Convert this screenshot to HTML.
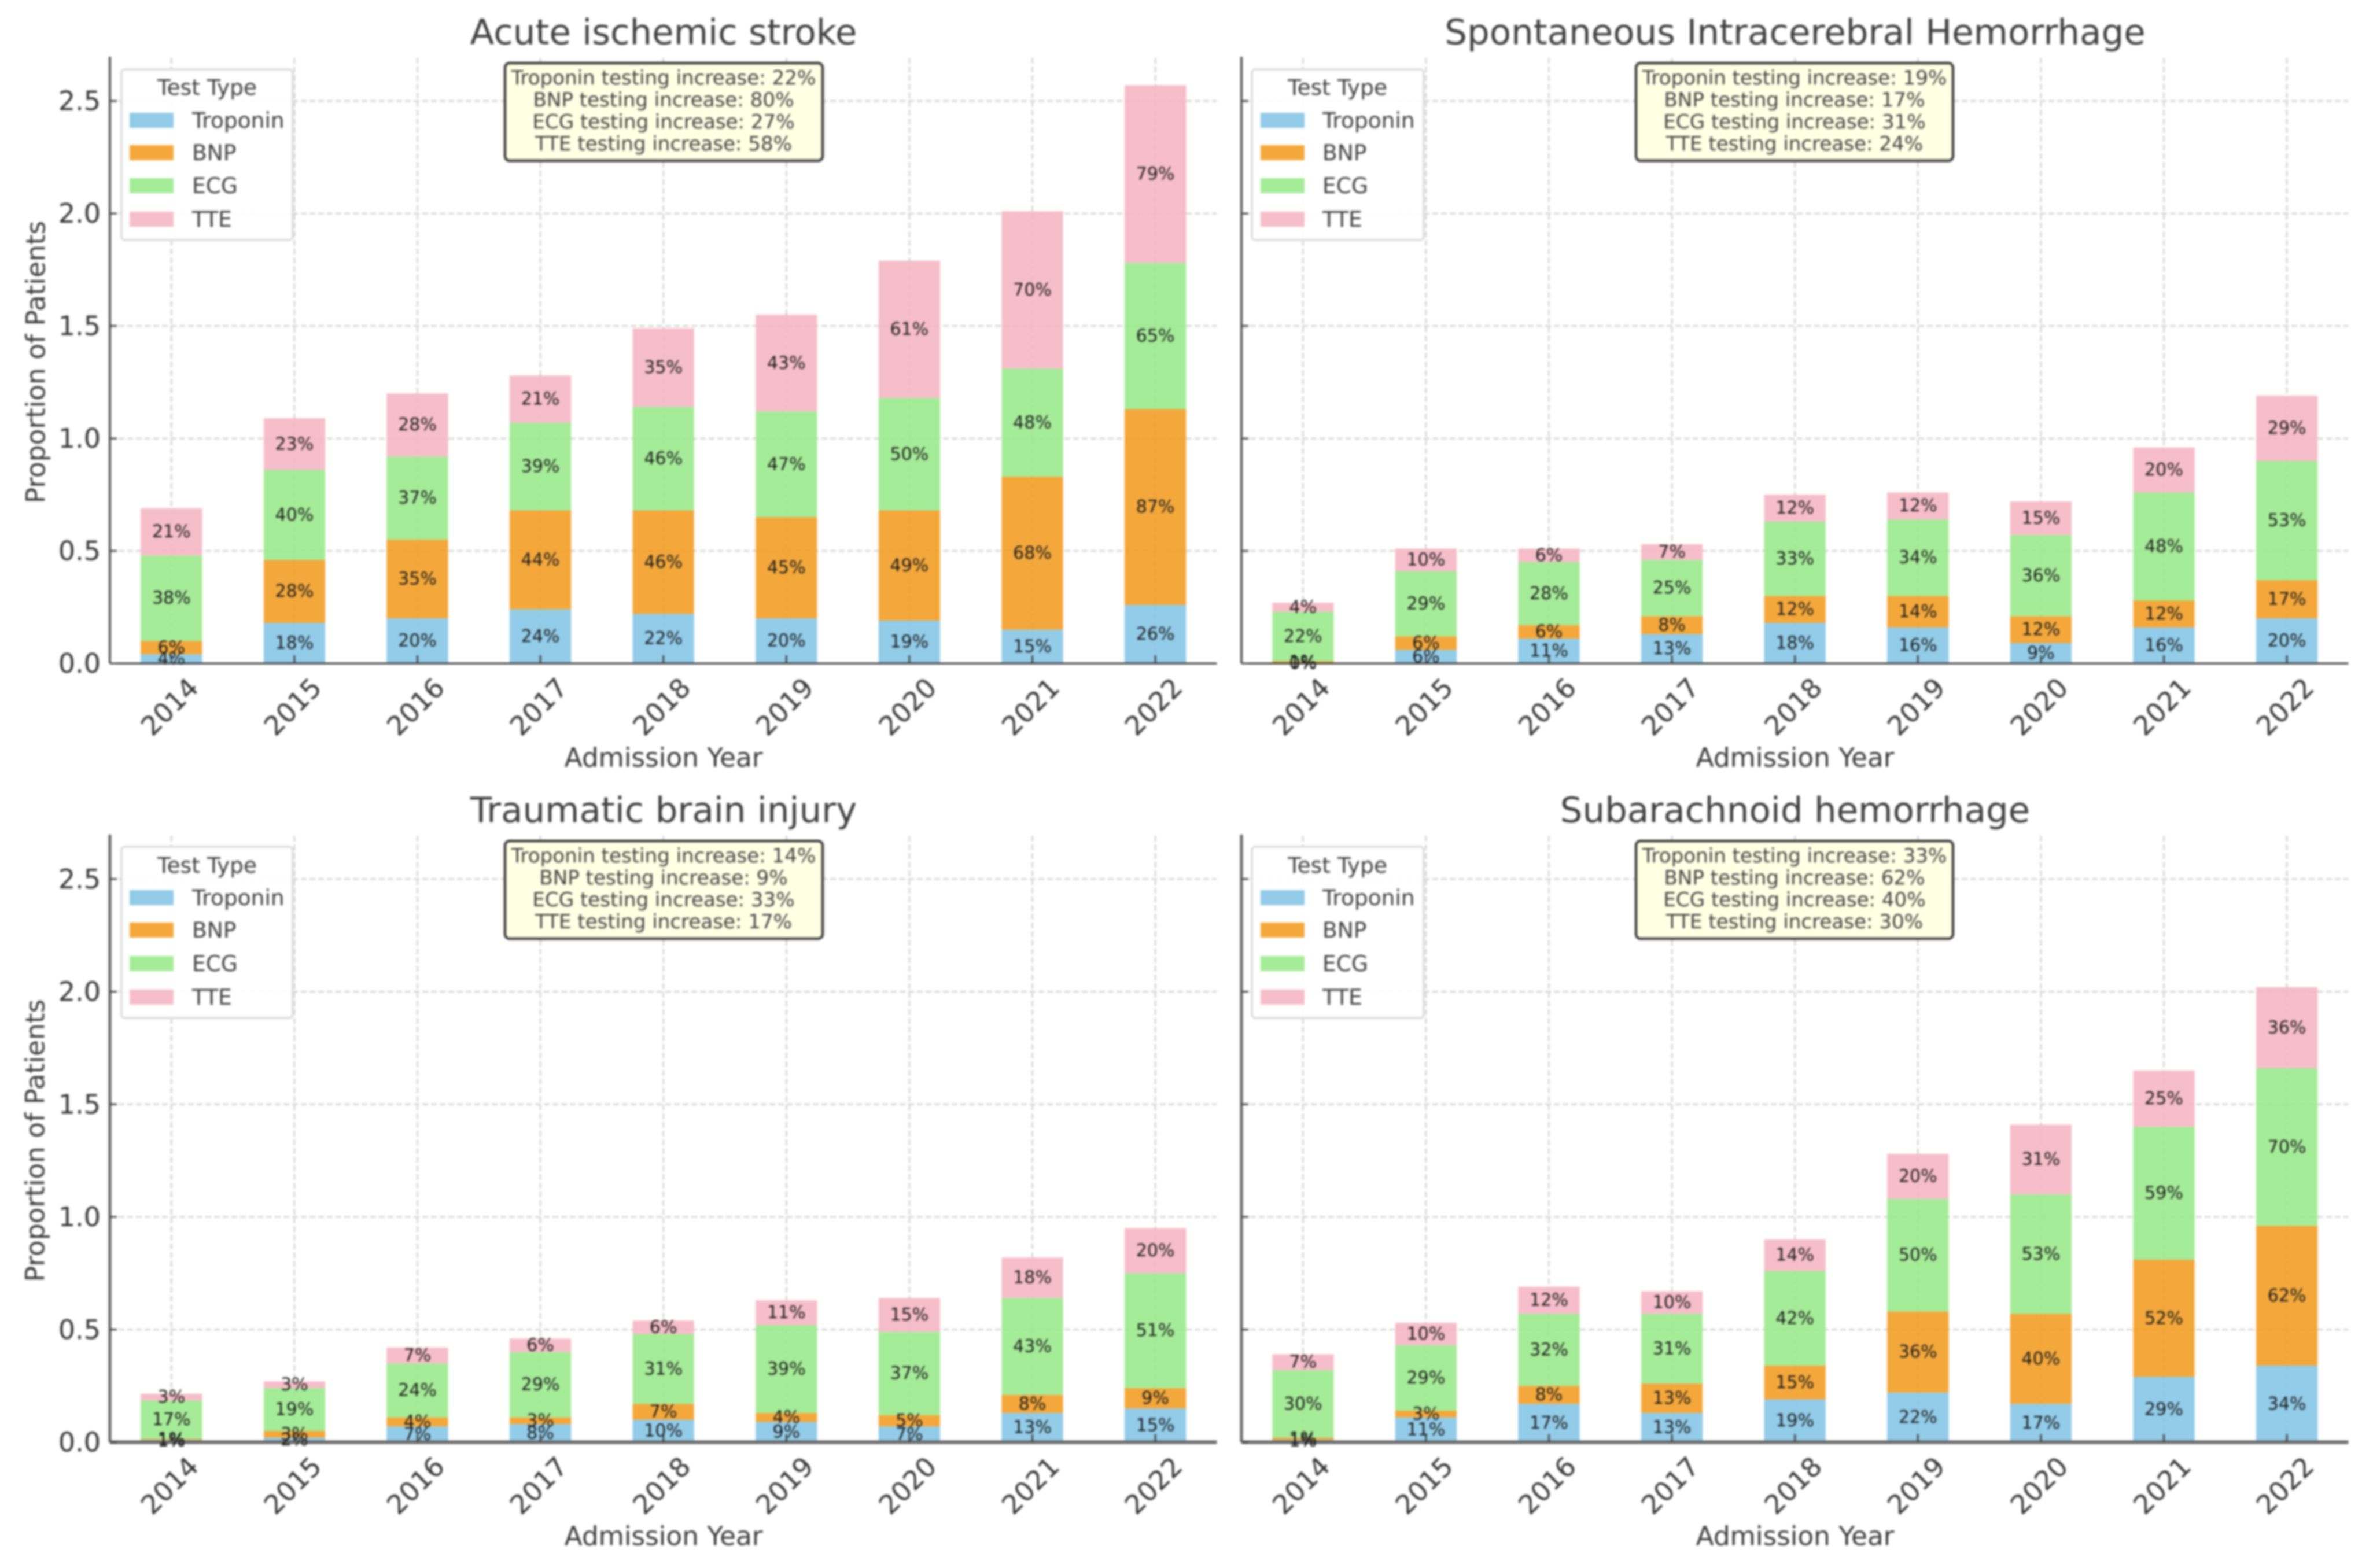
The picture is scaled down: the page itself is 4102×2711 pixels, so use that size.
<!DOCTYPE html>
<html lang="en">
<head>
<meta charset="utf-8">
<title>Cardiac testing by admission year</title>
<style>
html,body{margin:0;padding:0;background:#fff;}
svg{display:block;width:4102px;height:2711px;filter:blur(1.8px);font-family:"DejaVu Sans","Liberation Sans",sans-serif;}
.title{font-size:61px;fill:#404040;text-anchor:middle;dominant-baseline:central;}
.axis-title{font-size:45.4px;fill:#3c3c3c;text-anchor:middle;dominant-baseline:central;}
.tick-label{font-size:46px;fill:#363636;}
.bar-label{font-size:30px;fill:#1c1c1c;text-anchor:middle;dominant-baseline:central;}
.legend-box{fill:#fff;fill-opacity:.92;stroke:#dcdcdc;stroke-width:3.5;}
.legend-title,.legend-text{font-size:37.5px;fill:#404040;dominant-baseline:central;}
.legend-title{text-anchor:middle;}
.note-box{fill:#ffffe4;stroke:#404040;stroke-width:4.5;}
.note-text{font-size:34.1px;fill:#444;text-anchor:middle;dominant-baseline:central;}
.grid{stroke:#d6d6d6;stroke-width:3;stroke-dasharray:10 5;fill:none;}
.spine-y{stroke:#555;stroke-width:4;}
.spine-x{stroke:#333;stroke-width:3;}
.row-bottom .spine-y{stroke:#666;stroke-width:5;}
.row-bottom .spine-x{stroke:#666;stroke-width:6;}
.tick{stroke:#444;stroke-width:3;}
</style>
</head>
<body>
<svg xmlns="http://www.w3.org/2000/svg" width="4102" height="2711" viewBox="0 0 4102 2711">
<rect width="4102" height="2711" fill="#fff"/>

<g id="ischemic" class="row-top" transform="translate(190,98)" data-height="1047">
  <text class="title" x="957" y="-42">Acute ischemic stroke</text>
  <g class="marks" transform="translate(0,2)"></g>
  <text class="axis-title" x="957" y="1212">Admission Year</text>
  <text class="axis-title" transform="translate(-128,528) rotate(-90)">Proportion of Patients</text>
  <g>
    <rect class="legend-box" x="20" y="22" width="296" height="295" rx="6"/>
    <text class="legend-title" x="168" y="53">Test Type</text>
    <rect x="34" y="97" width="76" height="26" fill="#92cbe8"/>
    <text class="legend-text" x="142" y="110">Troponin</text>
    <rect x="34" y="153" width="76" height="26" fill="#f4a83c"/>
    <text class="legend-text" x="142" y="166">BNP</text>
    <rect x="34" y="210" width="76" height="26" fill="#a5ec98"/>
    <text class="legend-text" x="142" y="223">ECG</text>
    <rect x="34" y="268" width="76" height="26" fill="#f6beca"/>
    <text class="legend-text" x="142" y="281">TTE</text>
  </g>
  <g>
    <rect class="note-box" x="683" y="11" width="549" height="169" rx="8"/>
    <text class="note-text" x="957" y="37">Troponin testing increase: 22%</text>
    <text class="note-text" x="957" y="75">BNP testing increase: 80%</text>
    <text class="note-text" x="957" y="113">ECG testing increase: 27%</text>
    <text class="note-text" x="957" y="151">TTE testing increase: 58%</text>
  </g>
</g>

<g id="hemorrhage" class="row-top no-y-labels" transform="translate(2146,98)" data-height="1047">
  <text class="title" x="957" y="-42">Spontaneous Intracerebral Hemorrhage</text>
  <g class="marks" transform="translate(0,2)"></g>
  <text class="axis-title" x="957" y="1212">Admission Year</text>
  <g>
    <rect class="legend-box" x="18" y="22" width="297" height="295" rx="6"/>
    <text class="legend-title" x="166" y="53">Test Type</text>
    <rect x="33" y="97" width="76" height="26" fill="#92cbe8"/>
    <text class="legend-text" x="140" y="110">Troponin</text>
    <rect x="33" y="153" width="76" height="26" fill="#f4a83c"/>
    <text class="legend-text" x="140" y="166">BNP</text>
    <rect x="33" y="210" width="76" height="26" fill="#a5ec98"/>
    <text class="legend-text" x="140" y="223">ECG</text>
    <rect x="33" y="268" width="76" height="26" fill="#f6beca"/>
    <text class="legend-text" x="140" y="281">TTE</text>
  </g>
  <g>
    <rect class="note-box" x="682" y="11" width="548" height="169" rx="8"/>
    <text class="note-text" x="956" y="37">Troponin testing increase: 19%</text>
    <text class="note-text" x="956" y="75">BNP testing increase: 17%</text>
    <text class="note-text" x="956" y="113">ECG testing increase: 31%</text>
    <text class="note-text" x="956" y="151">TTE testing increase: 24%</text>
  </g>
</g>

<g id="trauma" class="row-bottom" transform="translate(190,1443)" data-height="1048.5">
  <text class="title" x="957" y="-42">Traumatic brain injury</text>
  <g class="marks" transform="translate(0,2)"></g>
  <text class="axis-title" x="957" y="1213">Admission Year</text>
  <text class="axis-title" transform="translate(-129,529) rotate(-90)">Proportion of Patients</text>
  <g>
    <rect class="legend-box" x="20" y="21" width="296" height="296" rx="6"/>
    <text class="legend-title" x="168" y="53">Test Type</text>
    <rect x="34" y="96" width="76" height="26" fill="#92cbe8"/>
    <text class="legend-text" x="142" y="109">Troponin</text>
    <rect x="34" y="152" width="76" height="26" fill="#f4a83c"/>
    <text class="legend-text" x="142" y="165">BNP</text>
    <rect x="34" y="210" width="76" height="26" fill="#a5ec98"/>
    <text class="legend-text" x="142" y="223">ECG</text>
    <rect x="34" y="268" width="76" height="26" fill="#f6beca"/>
    <text class="legend-text" x="142" y="281">TTE</text>
  </g>
  <g>
    <rect class="note-box" x="683" y="11" width="549" height="169" rx="8"/>
    <text class="note-text" x="957" y="37">Troponin testing increase: 14%</text>
    <text class="note-text" x="957" y="75">BNP testing increase: 9%</text>
    <text class="note-text" x="957" y="113">ECG testing increase: 33%</text>
    <text class="note-text" x="957" y="151">TTE testing increase: 17%</text>
  </g>
</g>

<g id="subarachnoid" class="row-bottom no-y-labels" transform="translate(2146,1443)" data-height="1048.5">
  <text class="title" x="957" y="-42">Subarachnoid hemorrhage</text>
  <g class="marks" transform="translate(0,2)"></g>
  <text class="axis-title" x="957" y="1213">Admission Year</text>
  <g>
    <rect class="legend-box" x="18" y="21" width="297" height="296" rx="6"/>
    <text class="legend-title" x="166" y="53">Test Type</text>
    <rect x="33" y="96" width="76" height="26" fill="#92cbe8"/>
    <text class="legend-text" x="140" y="109">Troponin</text>
    <rect x="33" y="152" width="76" height="26" fill="#f4a83c"/>
    <text class="legend-text" x="140" y="165">BNP</text>
    <rect x="33" y="210" width="76" height="26" fill="#a5ec98"/>
    <text class="legend-text" x="140" y="223">ECG</text>
    <rect x="33" y="268" width="76" height="26" fill="#f6beca"/>
    <text class="legend-text" x="140" y="281">TTE</text>
  </g>
  <g>
    <rect class="note-box" x="682" y="11" width="548" height="169" rx="8"/>
    <text class="note-text" x="956" y="37">Troponin testing increase: 33%</text>
    <text class="note-text" x="956" y="75">BNP testing increase: 62%</text>
    <text class="note-text" x="956" y="113">ECG testing increase: 40%</text>
    <text class="note-text" x="956" y="151">TTE testing increase: 30%</text>
  </g>
</g>
</svg>

<script>
const years = [2014, 2015, 2016, 2017, 2018, 2019, 2020, 2021, 2022];
const yTickValues = [0, 0.5, 1, 1.5, 2, 2.5];
const yTickLabels = ["0.0", "0.5", "1.0", "1.5", "2.0", "2.5"];
const seriesNames = ["troponin", "bnp", "ecg", "tte"];

const ischemicTroponin = [0.04, 0.18, 0.20, 0.24, 0.22, 0.20, 0.19, 0.15, 0.26];
const ischemicBnp = [0.06, 0.28, 0.35, 0.44, 0.46, 0.45, 0.49, 0.68, 0.87];
const ischemicEcg = [0.38, 0.40, 0.37, 0.39, 0.46, 0.47, 0.50, 0.48, 0.65];
const ischemicTte = [0.21, 0.23, 0.28, 0.21, 0.35, 0.43, 0.61, 0.70, 0.79];

const hemorrhageTroponin = [0.00, 0.06, 0.11, 0.13, 0.18, 0.16, 0.09, 0.16, 0.20];
const hemorrhageBnp = [0.01, 0.06, 0.06, 0.08, 0.12, 0.14, 0.12, 0.12, 0.17];
const hemorrhageEcg = [0.22, 0.29, 0.28, 0.25, 0.33, 0.34, 0.36, 0.48, 0.53];
const hemorrhageTte = [0.04, 0.10, 0.06, 0.07, 0.12, 0.12, 0.15, 0.20, 0.29];

const traumaTroponin = [0.01, 0.02, 0.07, 0.08, 0.10, 0.09, 0.07, 0.13, 0.15];
const traumaBnp = [0.005, 0.03, 0.04, 0.03, 0.07, 0.04, 0.05, 0.08, 0.09];
const traumaEcg = [0.17, 0.19, 0.24, 0.29, 0.31, 0.39, 0.37, 0.43, 0.51];
const traumaTte = [0.03, 0.03, 0.07, 0.06, 0.06, 0.11, 0.15, 0.18, 0.20];

const subarachnoidTroponin = [0.01, 0.11, 0.17, 0.13, 0.19, 0.22, 0.17, 0.29, 0.34];
const subarachnoidBnp = [0.01, 0.03, 0.08, 0.13, 0.15, 0.36, 0.40, 0.52, 0.62];
const subarachnoidEcg = [0.30, 0.29, 0.32, 0.31, 0.42, 0.50, 0.53, 0.59, 0.70];
const subarachnoidTte = [0.07, 0.10, 0.12, 0.10, 0.14, 0.20, 0.31, 0.25, 0.36];

const panelSeries = {
  ischemic: [ischemicTroponin, ischemicBnp, ischemicEcg, ischemicTte],
  hemorrhage: [hemorrhageTroponin, hemorrhageBnp, hemorrhageEcg, hemorrhageTte],
  trauma: [traumaTroponin, traumaBnp, traumaEcg, traumaTte],
  subarachnoid: [subarachnoidTroponin, subarachnoidBnp, subarachnoidEcg, subarachnoidTte]
};

const seriesFill = {troponin: "#86c6e7", bnp: "#f39e26", ecg: "#9bea8d", tte: "#f5b7c4"};
const SVG_NS = "http://www.w3.org/2000/svg";
const STEP = 212.6;
const PLOT_WIDTH = 9 * STEP;
const Y_MAX = 2.692;
const BAR_WIDTH = STEP * 0.5;

function xScale(index) {
  return (index + 0.5) * STEP;
}
function yScale(value, plotHeight) {
  return plotHeight - (value / Y_MAX) * plotHeight;
}
function make(tag, attrs, parent, text) {
  const el = document.createElementNS(SVG_NS, tag);
  Object.keys(attrs).forEach(function (k) { el.setAttribute(k, attrs[k]); });
  if (text !== undefined) el.textContent = text;
  parent.appendChild(el);
  return el;
}

Object.keys(panelSeries).forEach(function (panelId) {
  const panel = document.getElementById(panelId);
  const marks = panel.querySelector(".marks");
  const H = parseFloat(panel.getAttribute("data-height"));
  const showYLabels = !panel.classList.contains("no-y-labels");

  yTickValues.forEach(function (v) {
    if (v === 0) return;
    const line = make("line", {class: "grid", x1: 0, x2: PLOT_WIDTH, y1: yScale(v, H), y2: yScale(v, H)}, marks);
    
    
  });
  years.forEach(function (y, i) {
    const line = make("line", {class: "grid", x1: xScale(i), x2: xScale(i), y1: 0, y2: H}, marks);
    
    
  });

  const stacks = panelSeries[panelId];
  const labels = [];
  years.forEach(function (year, i) {
    let base = 0;
    stacks.forEach(function (values, s) {
      const value = values[i];
      const top = yScale(base + value, H);
      const bottom = yScale(base, H);
      const bar = make("rect", {
        x: xScale(i) - BAR_WIDTH / 2,
        y: top,
        width: BAR_WIDTH,
        height: bottom - top,
        fill: seriesFill[seriesNames[s]],
        "fill-opacity": 0.9
      }, marks);
      
      
      labels.push({x: xScale(i), y: (top + bottom) / 2, text: Math.round(value * 100) + "%", series: seriesNames[s], year: year});
      base += value;
    });
  });

  const spineY = make("line", {class: "spine-y", x1: 0, x2: 0, y1: -2, y2: H}, marks);
  
  
  const spineX = make("line", {class: "spine-x", x1: 0, x2: PLOT_WIDTH, y1: H, y2: H}, marks);
  
  

  yTickValues.forEach(function (v, i) {
    const tick = make("line", {class: "tick", x1: 0, x2: 12, y1: yScale(v, H), y2: yScale(v, H)}, marks);
    
    
    if (showYLabels) {
      const label = make("text", {class: "tick-label", x: -16, y: yScale(v, H), "text-anchor": "end", "dominant-baseline": "central"}, marks, yTickLabels[i]);
      
      
    }
  });

  years.forEach(function (year, i) {
    const tick = make("line", {class: "tick", x1: xScale(i), x2: xScale(i), y1: H - 14, y2: H}, marks);
    
    
    const label = make("text", {
      class: "tick-label",
      "text-anchor": "middle",
      "dominant-baseline": "central",
      transform: "translate(" + (xScale(i) - 3) + "," + (H + 75) + ") rotate(-45)"
    }, marks, String(year));
    
    
  });

  labels.forEach(function (d) {
    const label = make("text", {class: "bar-label", x: d.x, y: d.y}, marks, d.text);
    
    
  });
});
</script>
</body>
</html>
